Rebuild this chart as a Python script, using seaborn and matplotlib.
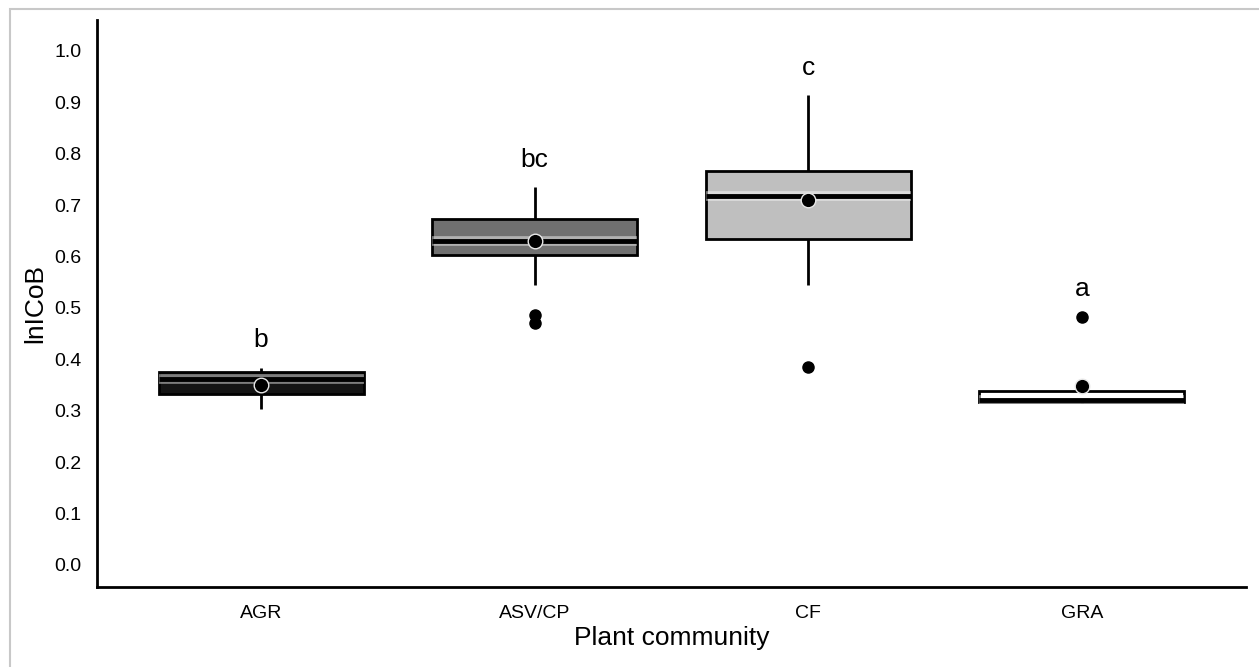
import numpy as np
import pandas as pd
import matplotlib
matplotlib.use("Agg")
import matplotlib.pyplot as plt
import matplotlib.patheffects as pe
from matplotlib.patches import Rectangle
import seaborn as sns

# ---- data ----
categories = ["AGR", "ASV/CP", "CF", "GRA"]
agr_values = [0.303, 0.320, 0.333, 0.345, 0.362, 0.368, 0.375, 0.380, 0.383]
asv_values = [0.471, 0.486, 0.545, 0.603, 0.610, 0.620, 0.630, 0.645, 0.660,
              0.673, 0.690, 0.710, 0.735]
cf_values = [0.384, 0.545, 0.634, 0.680, 0.718, 0.740, 0.767, 0.850, 0.914]
gra_values = [0.315, 0.316, 0.3165, 0.318, 0.321, 0.330, 0.339, 0.345, 0.483]
mean_values = [0.350, 0.630, 0.710, 0.348]
letters = ["b", "bc", "c", "a"]
letter_heights = [0.424, 0.774, 0.953, 0.523]
box_colors = ["#141414", "#707070", "#bfbfbf", "#ffffff"]
y_ticks = [0.0, 0.1, 0.2, 0.3, 0.4, 0.5, 0.6, 0.7, 0.8, 0.9, 1.0]

groups = [agr_values, asv_values, cf_values, gra_values]
df = pd.DataFrame({
    "community": np.repeat(categories, [len(g) for g in groups]),
    "value": np.concatenate(groups),
})
means_df = pd.DataFrame({"community": categories, "mean": mean_values})

sns.set_theme(style="white")
plt.rcParams["font.family"] = ["Liberation Sans", "DejaVu Sans"]

fig = plt.figure(figsize=(12.59, 6.67), dpi=100)
ax = fig.add_axes([0.077, 0.12, 0.9897 - 0.077, 0.97 - 0.12])

sns.boxplot(
    data=df, x="community", y="value", hue="community", order=categories,
    hue_order=categories, palette=box_colors, legend=False, width=0.75,
    whis=1.5, linewidth=2, linecolor="black", ax=ax,
    boxprops=dict(edgecolor="black", linewidth=2),
    whiskerprops=dict(color="black", linewidth=2),
    capprops=dict(linewidth=0),
    medianprops=dict(color="black", linewidth=3.5,
                     path_effects=[pe.Stroke(linewidth=7, foreground="white", alpha=0.45),
                                   pe.Normal()]),
    flierprops=dict(marker="o", markerfacecolor="black", markeredgecolor="black",
                    markersize=8),
)

sns.scatterplot(
    data=means_df, x="community", y="mean", ax=ax, color="black", s=110,
    edgecolor="#e8e8e8", linewidth=1.0, zorder=5, legend=False,
)

for i, (lab, h) in enumerate(zip(letters, letter_heights)):
    ax.text(i, h, lab, ha="center", va="baseline", fontsize=19, color="black")

ax.set_xlim(-0.6, 3.6)
ax.set_ylim(-0.043, 1.06)
ax.set_yticks(y_ticks)
ax.set_yticklabels([f"{t:.1f}" for t in y_ticks])
ax.tick_params(axis="both", length=0, labelsize=14, colors="black")
ax.tick_params(axis="y", pad=11)
ax.tick_params(axis="x", pad=13)
ax.set_xlabel("Plant community", fontsize=19, color="black", labelpad=3)
ax.set_ylabel("lnICoB", fontsize=19, color="black", labelpad=5)

for s in ["top", "right"]:
    ax.spines[s].set_visible(False)
for s in ["left", "bottom"]:
    ax.spines[s].set_color("black")
    ax.spines[s].set_linewidth(2)

fig.patches.append(Rectangle((0.008, -0.05), 1.2, 0.9865 + 0.05, transform=fig.transFigure,
                             fill=False, edgecolor="#c8c8c8", linewidth=1.5))

fig.savefig("out.png", dpi=100)
